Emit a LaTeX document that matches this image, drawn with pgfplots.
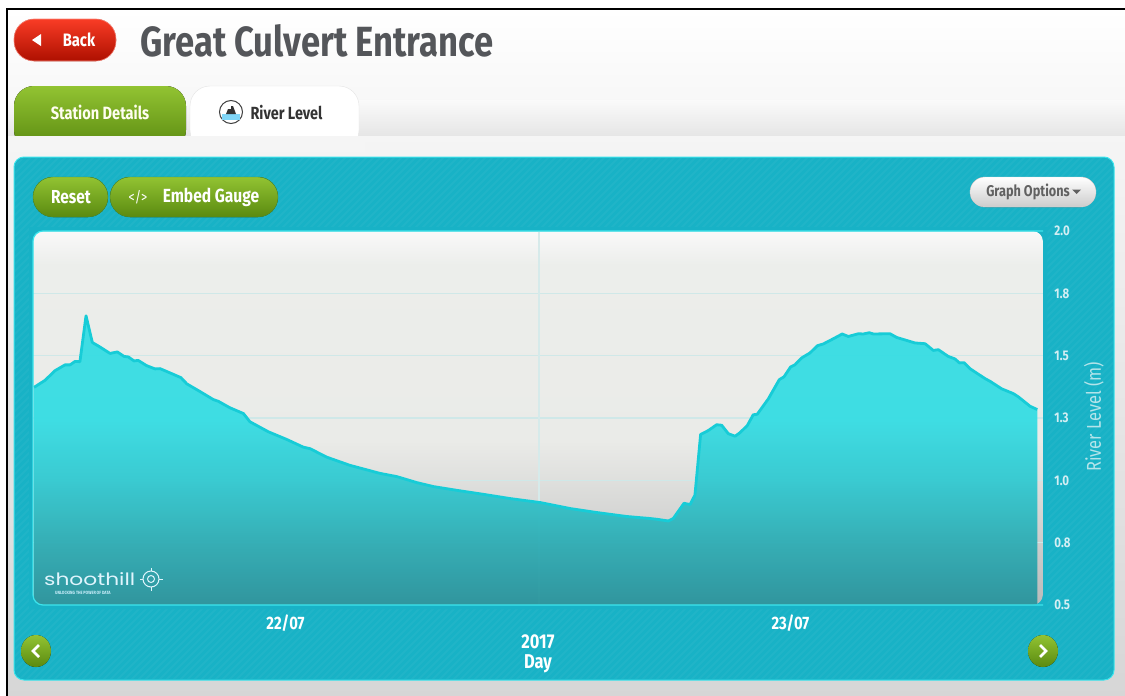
\documentclass[border=0pt]{standalone}
\usepackage{fontspec}
\setmainfont[FakeStretch=0.82]{Fira Sans}
\newfontfamily\logofont[FakeStretch=1.28]{Poppins}
\usepackage{pgfplots}
\pgfplotsset{compat=1.18}
\definecolor{panel}{HTML}{18B2C6}
\definecolor{panelb}{HTML}{3CE4EC}
\definecolor{ttl}{HTML}{54565A}
\definecolor{linec}{HTML}{17CCD7}
\definecolor{gridc}{HTML}{CFE8E8}
\definecolor{gridv}{HTML}{D6EAEA}
\definecolor{ticklab}{HTML}{D4EEF3}
\definecolor{ylab}{HTML}{B4E4EA}
\definecolor{a1}{HTML}{38DDE3}\definecolor{a2}{HTML}{34CAD1}\definecolor{a3}{HTML}{30AEB6}\definecolor{a4}{HTML}{2C949C}
\definecolor{b1}{HTML}{F9F9F9}\definecolor{b2}{HTML}{ECEEEB}\definecolor{b3}{HTML}{EAEBE8}\definecolor{b4}{HTML}{BBBBBB}
\pgfdeclareverticalshading{areafill}{100bp}{color(0bp)=(a4);color(25bp)=(a4);color(36.2bp)=(a3);color(46.6bp)=(a2);color(57bp)=(a1);color(75bp)=(a1);color(100bp)=(a1)}
\pgfdeclareverticalshading{plotbg}{100bp}{color(0bp)=(b4);color(25bp)=(b4);color(47bp)=(b3);color(70.5bp)=(b2);color(75bp)=(b1);color(100bp)=(b1)}
\pgfplotstableread{
h v
0.05 1.373
0.57 1.401
1.05 1.440
1.52 1.463
1.76 1.463
2.00 1.477
2.23 1.476
2.52 1.660
2.82 1.553
3.18 1.535
3.66 1.509
4.01 1.515
4.33 1.497
4.53 1.495
4.80 1.479
5.00 1.481
5.40 1.460
5.80 1.447
6.04 1.448
6.51 1.431
7.03 1.412
7.31 1.387
7.94 1.356
8.57 1.324
8.81 1.317
9.36 1.291
10.00 1.268
10.31 1.235
11.18 1.195
12.06 1.164
12.85 1.133
13.17 1.127
13.96 1.093
15.07 1.060
16.49 1.028
17.29 1.015
18.24 0.991
19.03 0.975
20.14 0.960
21.40 0.944
22.67 0.927
24.10 0.911
25.52 0.887
26.79 0.871
28.22 0.855
29.32 0.847
29.64 0.844
30.20 0.837
30.43 0.847
30.94 0.908
31.23 0.903
31.46 0.941
31.73 1.184
32.10 1.200
32.49 1.223
32.73 1.221
33.05 1.187
33.37 1.177
33.60 1.191
33.95 1.220
34.23 1.263
34.42 1.265
34.95 1.327
35.47 1.404
35.69 1.415
36.01 1.455
36.22 1.464
36.53 1.491
36.93 1.511
37.28 1.540
37.56 1.547
38.04 1.568
38.46 1.587
38.75 1.577
39.23 1.588
39.46 1.587
39.75 1.592
39.94 1.587
40.73 1.588
41.05 1.573
41.92 1.551
42.40 1.548
42.79 1.521
43.03 1.524
43.50 1.497
43.82 1.487
44.03 1.471
44.25 1.472
44.53 1.448
45.25 1.408
45.49 1.397
46.04 1.367
46.59 1.348
46.83 1.335
47.39 1.297
47.73 1.284
}\levels
\begin{document}
\begin{tikzpicture}[x=1pt,y=-1pt,
  btn/.style={text=white}]
\useasboundingbox (0,0) rectangle (1125,696);
\definecolor{gt}{HTML}{92C332}\definecolor{gb}{HTML}{5A8A10}
\definecolor{rt}{HTML}{F93C26}\definecolor{rb}{HTML}{AE1000}
% page
\fill[white] (0,0) rectangle (1125,696);
\fill[top color=white,bottom color=white!97!black,draw=none] (8,10) rectangle (1125,100);
\fill[top color=white!98!black,bottom color=white!90!black] (8,100) rectangle (1125,136);
\fill[top color=white!96!black,bottom color=white!84!black] (8,136) rectangle (1125,696);
\draw[black,line width=2pt] (7,696) -- (7,9) -- (1125,9);
% header
\fill[top color=rt,bottom color=rb,draw=rt!60!white,line width=.6pt,rounded corners=20pt] (14,19) rectangle (116,61);
\fill[white] (32,40) -- (41,34) -- (41,46) -- cycle;
\node[btn,font=\bfseries\fontsize{18}{18}\selectfont] at (79,40) {Back};
\node[anchor=west,text=ttl,font=\bfseries\fontsize{42.2}{42}\selectfont,inner sep=0] at (140,41) {Great Culvert Entrance};
% tabs
\fill[top color=gt,bottom color=gb,rounded corners=20pt] (14,150) -- (14,86) -- (186,86) -- (186,150) -- cycle;
\fill[white!96!black] (8,136) rectangle (200,152);
\draw[white!90!black,fill=white,rounded corners=20pt] (190,150) -- (190,86) -- (359,86) -- (359,150) -- cycle;
\fill[white!96!black] (186,136) rectangle (365,152);
\fill[white] (191,130) rectangle (358,136);
\node[btn,font=\bfseries\fontsize{17.8}{18}\selectfont,text=white!94!yellow] at (100,112.5) {Station Details};
\draw[black!75,line width=1pt,fill=white] (231,112) circle (11.5);
\fill[cyan!50!white] (222,114) rectangle (240,120);
\fill[black!80] (226,114) -- (228,109) -- (231,109) -- (231,106) -- (233,106) -- (236,114) -- cycle;
\node[font=\bfseries\fontsize{17.6}{18}\selectfont,text=black!80] at (286.5,112.5) {River Level};
% panel
\draw[panelb,line width=1pt,fill=panel,rounded corners=10pt] (14,157) rectangle (1114,680);
\begin{scope}
\clip[rounded corners=10pt] (15,158) rectangle (1113,679);
\foreach \k in {-520,-513,...,1110}{
  \draw[white,opacity=0.035,line width=2pt] (\k,680) -- (\k+523,157);
}
\end{scope}
\fill[top color=gt,bottom color=gb,draw=gb!80!panel,rounded corners=20pt] (33,177) rectangle (108,217);
\fill[top color=gt,bottom color=gb,draw=gb!80!panel,rounded corners=20pt] (110,177) rectangle (278,217);
\node[btn,font=\bfseries\fontsize{18.8}{19}\selectfont] at (71,197.5) {Reset};
\node[btn,font=\fontsize{15}{15}\selectfont] at (138,197.5) {</>};
\node[btn,font=\bfseries\fontsize{19}{19}\selectfont] at (211,197.5) {Embed Gauge};
\fill[top color=white,bottom color=white!80!black,draw=white!85!black,rounded corners=15pt] (970,177) rectangle (1096,207);
\node[font=\bfseries\fontsize{15.5}{15.5}\selectfont,text=black!62] at (1028,191.5) {Graph Options};
\fill[black!62] (1072,189.5) -- (1081,189.5) -- (1076.5,194) -- cycle;
% plot background
\shade[shading=plotbg,rounded corners=10pt] (33,231) rectangle (1043,605);
\begin{axis}[at={(33pt,-605pt)},anchor=south west,
  width=1010pt,height=374pt,scale only axis,
  xmin=0,xmax=48,ymin=0.5,ymax=2.0,
  axis line style={draw=none},
  axis y line*=right,axis x line*=bottom,
  xtick={12,36},xticklabels={22/07,23/07},
  extra x ticks={24.05},extra x tick labels={},
  extra x tick style={grid=major,major grid style={gridv,line width=1.2pt},tick style={draw=none}},
  ytick={0.5,0.75,1,1.25,1.5,1.75,2},
  yticklabels={0.5,0.8,1.0,1.3,1.5,1.8,2.0},
  ymajorgrids,grid style={gridc,line width=1.5pt},
  tick style={draw=none},
  x tick label style={font=\bfseries\fontsize{18}{18}\selectfont,text=white,yshift=-6pt},
  y tick label style={font=\bfseries\fontsize{14}{14}\selectfont,text=ticklab,xshift=8pt},
  /pgf/number format/assume math mode=true,
  xlabel={2017\\Day},
  xlabel style={font=\bfseries\fontsize{20}{20}\selectfont,text=white,align=center,at={(axis description cs:0.5,0)},anchor=north,yshift=-26pt},
  ylabel={River Level (m)},
  ylabel style={font=\fontsize{20}{20}\selectfont,text=ylab,at={(axis description cs:1.0505,0.503)},anchor=center,rotate=0},
  clip=true]
\addplot[draw=none,shading=areafill,fill opacity=0.96,forget plot] table[x=h,y=v] {\levels} \closedcycle;
\addplot[linec,line width=2.8pt,line join=round,no markers] table[x=h,y=v] {\levels};
\end{axis}
% plot frame
\fill[panel,even odd rule] (29,227) rectangle (1047,609) [rounded corners=10pt] (33,231) rectangle (1043,605);
\draw[panelb,line width=1.2pt,rounded corners=10pt] (1043,231) -- (33,231) -- (33,605) -- (1043,605);
% logo
\node[anchor=west,inner sep=0,text=white!88!cyan,font=\logofont\fontsize{17}{17}\selectfont] at (44,579.5) {shoothill};
\node[anchor=west,inner sep=0,text=white!80!cyan,font=\bfseries\fontsize{4.6}{4.6}\selectfont] at (55,592.5) {UNLOCKING THE POWER OF DATA};
\draw[white!88!cyan,line width=1pt] (151,579) circle (8) (151,579) circle (3.5);
\draw[white!88!cyan,line width=.8pt] (151,568) -- (151,571) (151,587) -- (151,591) (140,579) -- (143,579) (159,579) -- (163,579);
% nav
\foreach \cx/\ch in {36/-1,1043/1}{
  \fill[top color=gt,bottom color=gb] (\cx,651) ellipse (15 and 16);
  \draw[white,line width=2.6pt] (\cx-\ch*3,645) -- (\cx+\ch*3,651) -- (\cx-\ch*3,657);
}
\end{tikzpicture}
\end{document}
